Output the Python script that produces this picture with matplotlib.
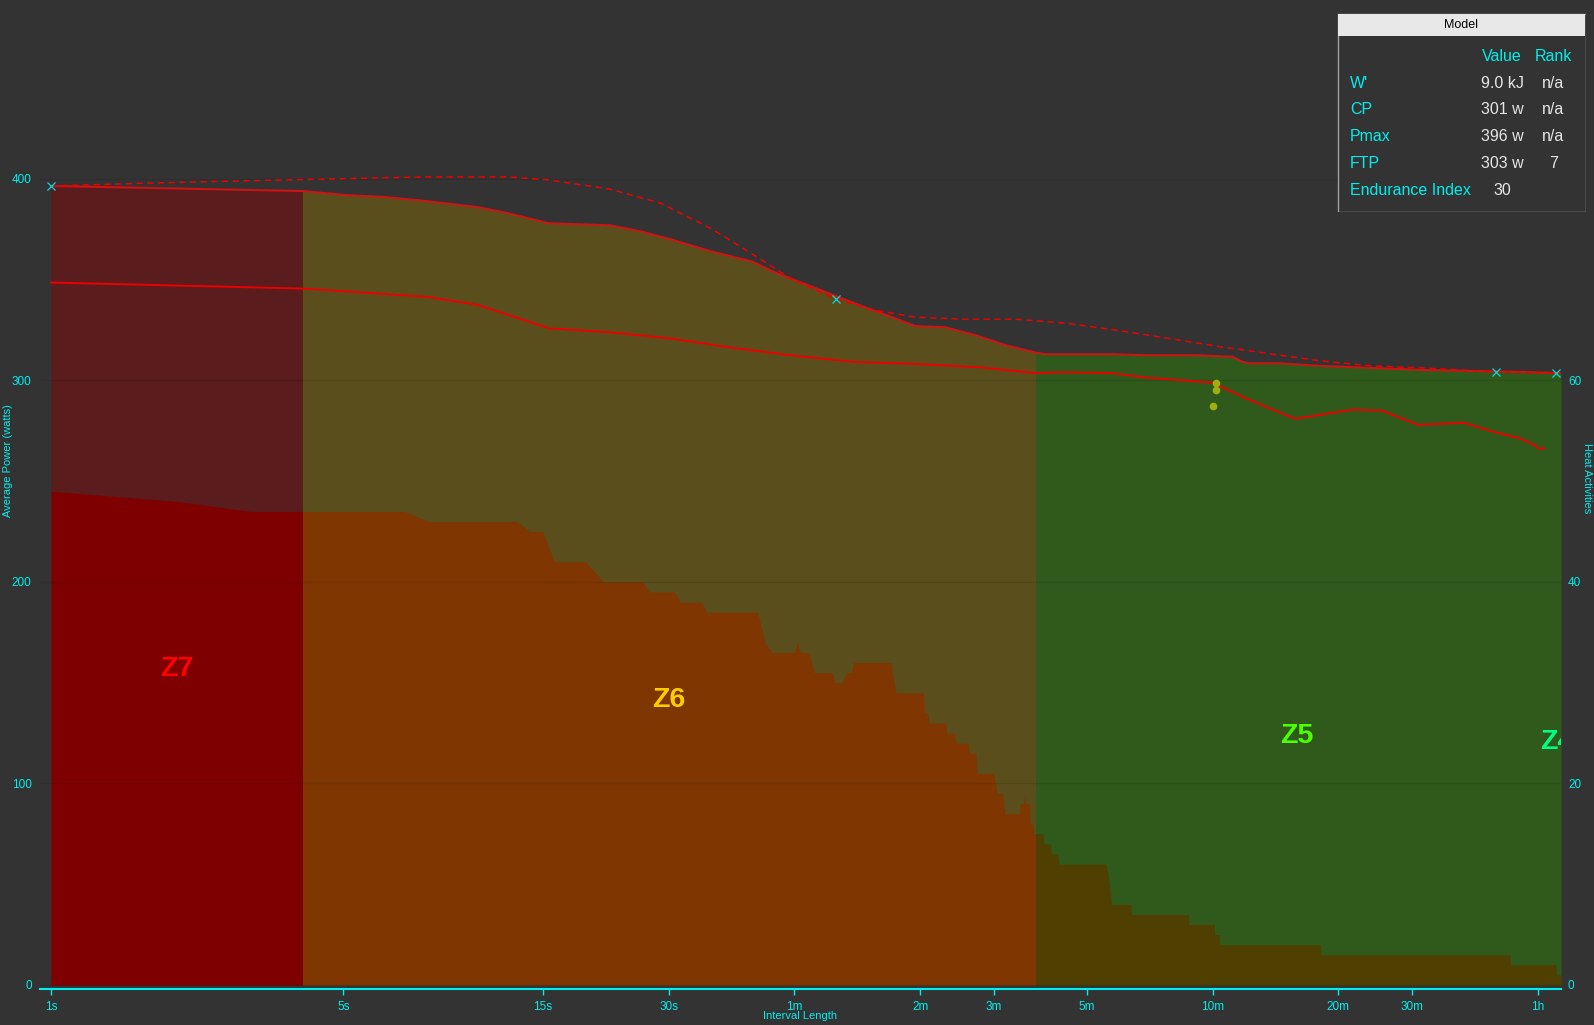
import matplotlib

matplotlib.use("Agg")

import matplotlib.pyplot as plt
import numpy as np
from matplotlib.patches import Rectangle

plt.rcParams["font.family"] = ["Liberation Sans", "DejaVu Sans"]

# best power curve (seconds, watts)
best_t = [1, 4, 5.06, 6.33, 7.92, 10.5, 12.4, 15.5, 21.7, 25.7, 30.4, 38, 47.6, 53.3,
          59.8, 74.1, 88, 104, 116.7, 137.7, 163.6, 193.5, 227.7, 240, 345, 418, 549,
          669, 706, 735, 870, 1091, 1445, 1912, 2529, 3346, 4089]
best_w = [396.5, 394, 392, 391, 389, 386, 383, 378, 377, 374, 370, 364, 359, 354,
          350, 342.5, 336.5, 331, 327, 326.4, 322.3, 317.3, 313.7, 313, 313, 312.5, 312.5,
          311.8, 309.3, 308.5, 308.5, 307.2, 306.2, 305.2, 304.7, 304.2, 303.6]

# CP model curve (dashed)
model_t = [1, 1.75, 3.62, 7.92, 12.4, 15.5, 21.7, 28.7, 38, 47.6, 59.4, 75.3, 93, 116.7,
           154, 203, 268, 355, 473, 624, 827, 1091, 1445, 1912, 2866, 3988, 4089]
model_w = [396.5, 398, 399.5, 401, 401, 399.5, 395, 388, 375.3, 362.7, 350, 340.5, 335,
           331.4, 330.4, 330.4, 328.4, 324.9, 320.8, 316.8, 313.2, 309.7, 307.2, 306.2,
           304.2, 303.7, 303.6]

# comparison curve (lower solid red)
cmp_t = [1, 4, 7.92, 10.5, 15.5, 21.7, 30.4, 42.3, 59.8, 83.4, 116.7, 166.7, 227.5, 262.6,
         347, 416, 500, 600, 720, 870, 947, 1091, 1296, 1527, 1859, 2396, 2617, 2812, 3262,
         3542, 3600, 3741]
cmp_w = [348.6, 345.6, 341.5, 337.5, 325.9, 323.9, 320.8, 316.3, 312.3, 309.2, 308.2, 306.5,
         303.6, 304.1, 303.6, 301.4, 300.2, 298.9, 291.2, 284, 281, 283, 285.5, 285, 278,
         279, 276.6, 274.6, 271.3, 267.8, 266.3, 266.3]

# heat: number of activities per duration (right axis)
heat_t = [1, 2, 3, 7, 8, 13, 14, 15, 16, 19, 21, 26, 27, 31, 32, 36, 37, 49, 51, 53, 60, 61,
          62, 65, 67, 74, 75, 78, 80, 82, 83, 102, 105, 122, 123, 125, 126, 138, 139, 145,
          146, 156, 157, 163, 164, 180, 183, 189, 191, 207, 208, 212, 213, 214, 219, 220,
          223, 224, 236, 237, 246, 247, 256, 257, 334, 337, 340, 342, 344, 383, 384, 526,
          527, 606, 607, 623, 624, 1088, 1089, 3090, 3092, 3980, 3982, 4089]
heat_n = [49, 48, 47, 47, 46, 46, 45, 45, 42, 42, 40, 40, 39, 39, 38, 38, 37, 37, 34, 33, 33,
          34, 33, 33, 31, 31, 30, 30, 31, 31, 32, 32, 29, 29, 27, 27, 26, 26, 25, 25,
          24, 24, 23, 23, 21, 21, 19, 19, 17, 17, 18, 18, 19, 18, 18, 16,
          16, 15, 15, 14, 14, 13, 13, 12, 12, 11, 10, 9, 8, 8, 7, 7,
          6, 6, 5, 5, 4, 4, 3, 3, 2, 2, 1, 1]

# model fit points and activity dots
mark_t = [1, 75.3, 2866, 3988]
mark_w = [396.5, 340.5, 304.2, 303.7]
dot_t = [611, 611, 600.5]
dot_w = [298.6, 295.3, 287.3]

# zones
zone_edges = [1, 4.0, 227, 4089]
zone_upper = ["#5a1c1c", "#5a4f1c", "#2f5a1c"]
zone_lower = ["#7f0000", "#7f3600", "#4f3f00"]
zone_names = ["Z7", "Z6", "Z5", "Z4"]
zone_label_t = [2.0, 30, 955, 4000]
zone_label_w = [157, 141.4, 123.6, 120.6]
zone_label_c = ["#ff0000", "#ffcc00", "#4cff00", "#00ff80"]

xtick_vals = [1, 5, 15, 30, 60, 120, 180, 300, 600, 1200, 1800, 3600]
xtick_labels = ["1s", "5s", "15s", "30s", "1m", "2m", "3m", "5m", "10m", "20m", "30m", "1h"]

model_rows = ["W'", "CP", "Pmax", "FTP", "Endurance Index"]
model_values = ["9.0 kJ", "301 w", "396 w", "303 w", "30"]
model_ranks = ["n/a", "n/a", "n/a", "7", ""]

BG = "#333333"
CYAN = "#00eeee"
W, H = 1594, 1025

fig = plt.figure(figsize=(W / 100, H / 100), dpi=100, facecolor=BG)
ax = fig.add_axes([40 / W, (H - 989) / H, 1521 / W, 989 / H])
ax.set_facecolor(BG)
ax.set_xscale("log")
ax.set_xlim(0.9412, 4089)
ax.set_ylim(-1.985, 488.8)

heat_w = np.array(heat_n) * 5.0
for i in range(3):
    t0, t1 = zone_edges[i], zone_edges[i + 1]
    clip = Rectangle((t0, -10), t1 - t0, 600, transform=ax.transData)
    up = ax.fill_between(best_t, 0, best_w, color=zone_upper[i], lw=0, zorder=1)
    lo = ax.fill_between(heat_t, 0, heat_w, color=zone_lower[i], lw=0, zorder=1.2)
    up.set_clip_path(clip)
    lo.set_clip_path(clip)

for name, t, w, c in zip(zone_names, zone_label_t, zone_label_w, zone_label_c):
    ax.text(t, w, name, color=c, fontsize=20.5, fontweight="bold",
            ha="center", va="center", zorder=3, clip_on=True)

ax.plot(best_t, best_w, color="#dd1111", lw=1.5, alpha=0.9, zorder=4)
ax.plot(cmp_t, cmp_w, color="#ee0000", lw=1.4, zorder=4)
ax.plot(model_t, model_w, color="#ee0000", lw=1.1, ls=(0, (4, 3)), zorder=4)
ax.plot(mark_t, mark_w, ls="none", marker="x", ms=6, mew=0.9, color="#00dddd", zorder=5)
ax.plot(dot_t, dot_w, ls="none", marker="o", ms=4.5, color="#9fae10", zorder=5)

ax.set_yticks([0, 100, 200, 300, 400])
ax.grid(axis="y", color="black", alpha=0.09, lw=1)
ax.grid(axis="x", visible=False)
ax.set_axisbelow(False)
ax.set_xticks(xtick_vals)
ax.set_xticklabels(xtick_labels)
ax.xaxis.set_minor_locator(matplotlib.ticker.NullLocator())
ax.tick_params(axis="x", colors=CYAN, length=4, width=1, labelsize=8.5, pad=5)
ax.tick_params(axis="y", colors=CYAN, length=0, labelsize=8.5, pad=6)
for side in ["top", "left", "right"]:
    ax.spines[side].set_visible(False)
ax.spines["bottom"].set_color(CYAN)
ax.spines["bottom"].set_linewidth(1.5)

ax2 = ax.twinx()
ax2.set_ylim(-1.985 / 5, 488.8 / 5)
ax2.set_yticks([0, 20, 40, 60])
ax2.tick_params(axis="y", colors=CYAN, length=0, labelsize=8.5, pad=5)
for s in ax2.spines.values():
    s.set_visible(False)

fig.text(8 / W, 1 - 461 / H, "Average Power (watts)", color=CYAN, fontsize=8,
         rotation=90, ha="center", va="center")
fig.text(1587 / W, 1 - 478 / H, "Heat Activities", color=CYAN, fontsize=8,
         rotation=-90, ha="center", va="center")
fig.text(800 / W, 1 - 1016 / H, "Interval Length", color=CYAN, fontsize=8,
         ha="center", va="center")

# model summary box
tab = fig.add_axes([1337 / W, 1 - 212 / H, 249 / W, 199 / H])
tab.set_xlim(1337, 1586)
tab.set_ylim(212, 13)
tab.axis("off")
tab.add_patch(Rectangle((1337.5, 13.5), 248, 198, facecolor=BG, edgecolor="#a0a0a0", lw=1))
tab.add_patch(Rectangle((1338, 14), 247, 22, facecolor="#e8e8e8", edgecolor="none"))
tab.text(1461, 25.5, "Model", color="black", fontsize=9, ha="center", va="center")
tab.text(1502, 56.7, "Value", color=CYAN, fontsize=11.5, ha="center", va="center")
tab.text(1553.5, 56.7, "Rank", color=CYAN, fontsize=11.5, ha="center", va="center")
for i, (lab, val, rank) in enumerate(zip(model_rows, model_values, model_ranks)):
    y = 83.3 + i * 26.7
    tab.text(1350, y, lab, color=CYAN, fontsize=11.5, ha="left", va="center")
    tab.text(1502, y, val, color="#e6e6e6", fontsize=11.5, ha="center", va="center")
    tab.text(1553.5, y, rank, color="#e6e6e6", fontsize=11.5, ha="center", va="center")

fig.savefig("out.png", dpi=100, facecolor=BG)
